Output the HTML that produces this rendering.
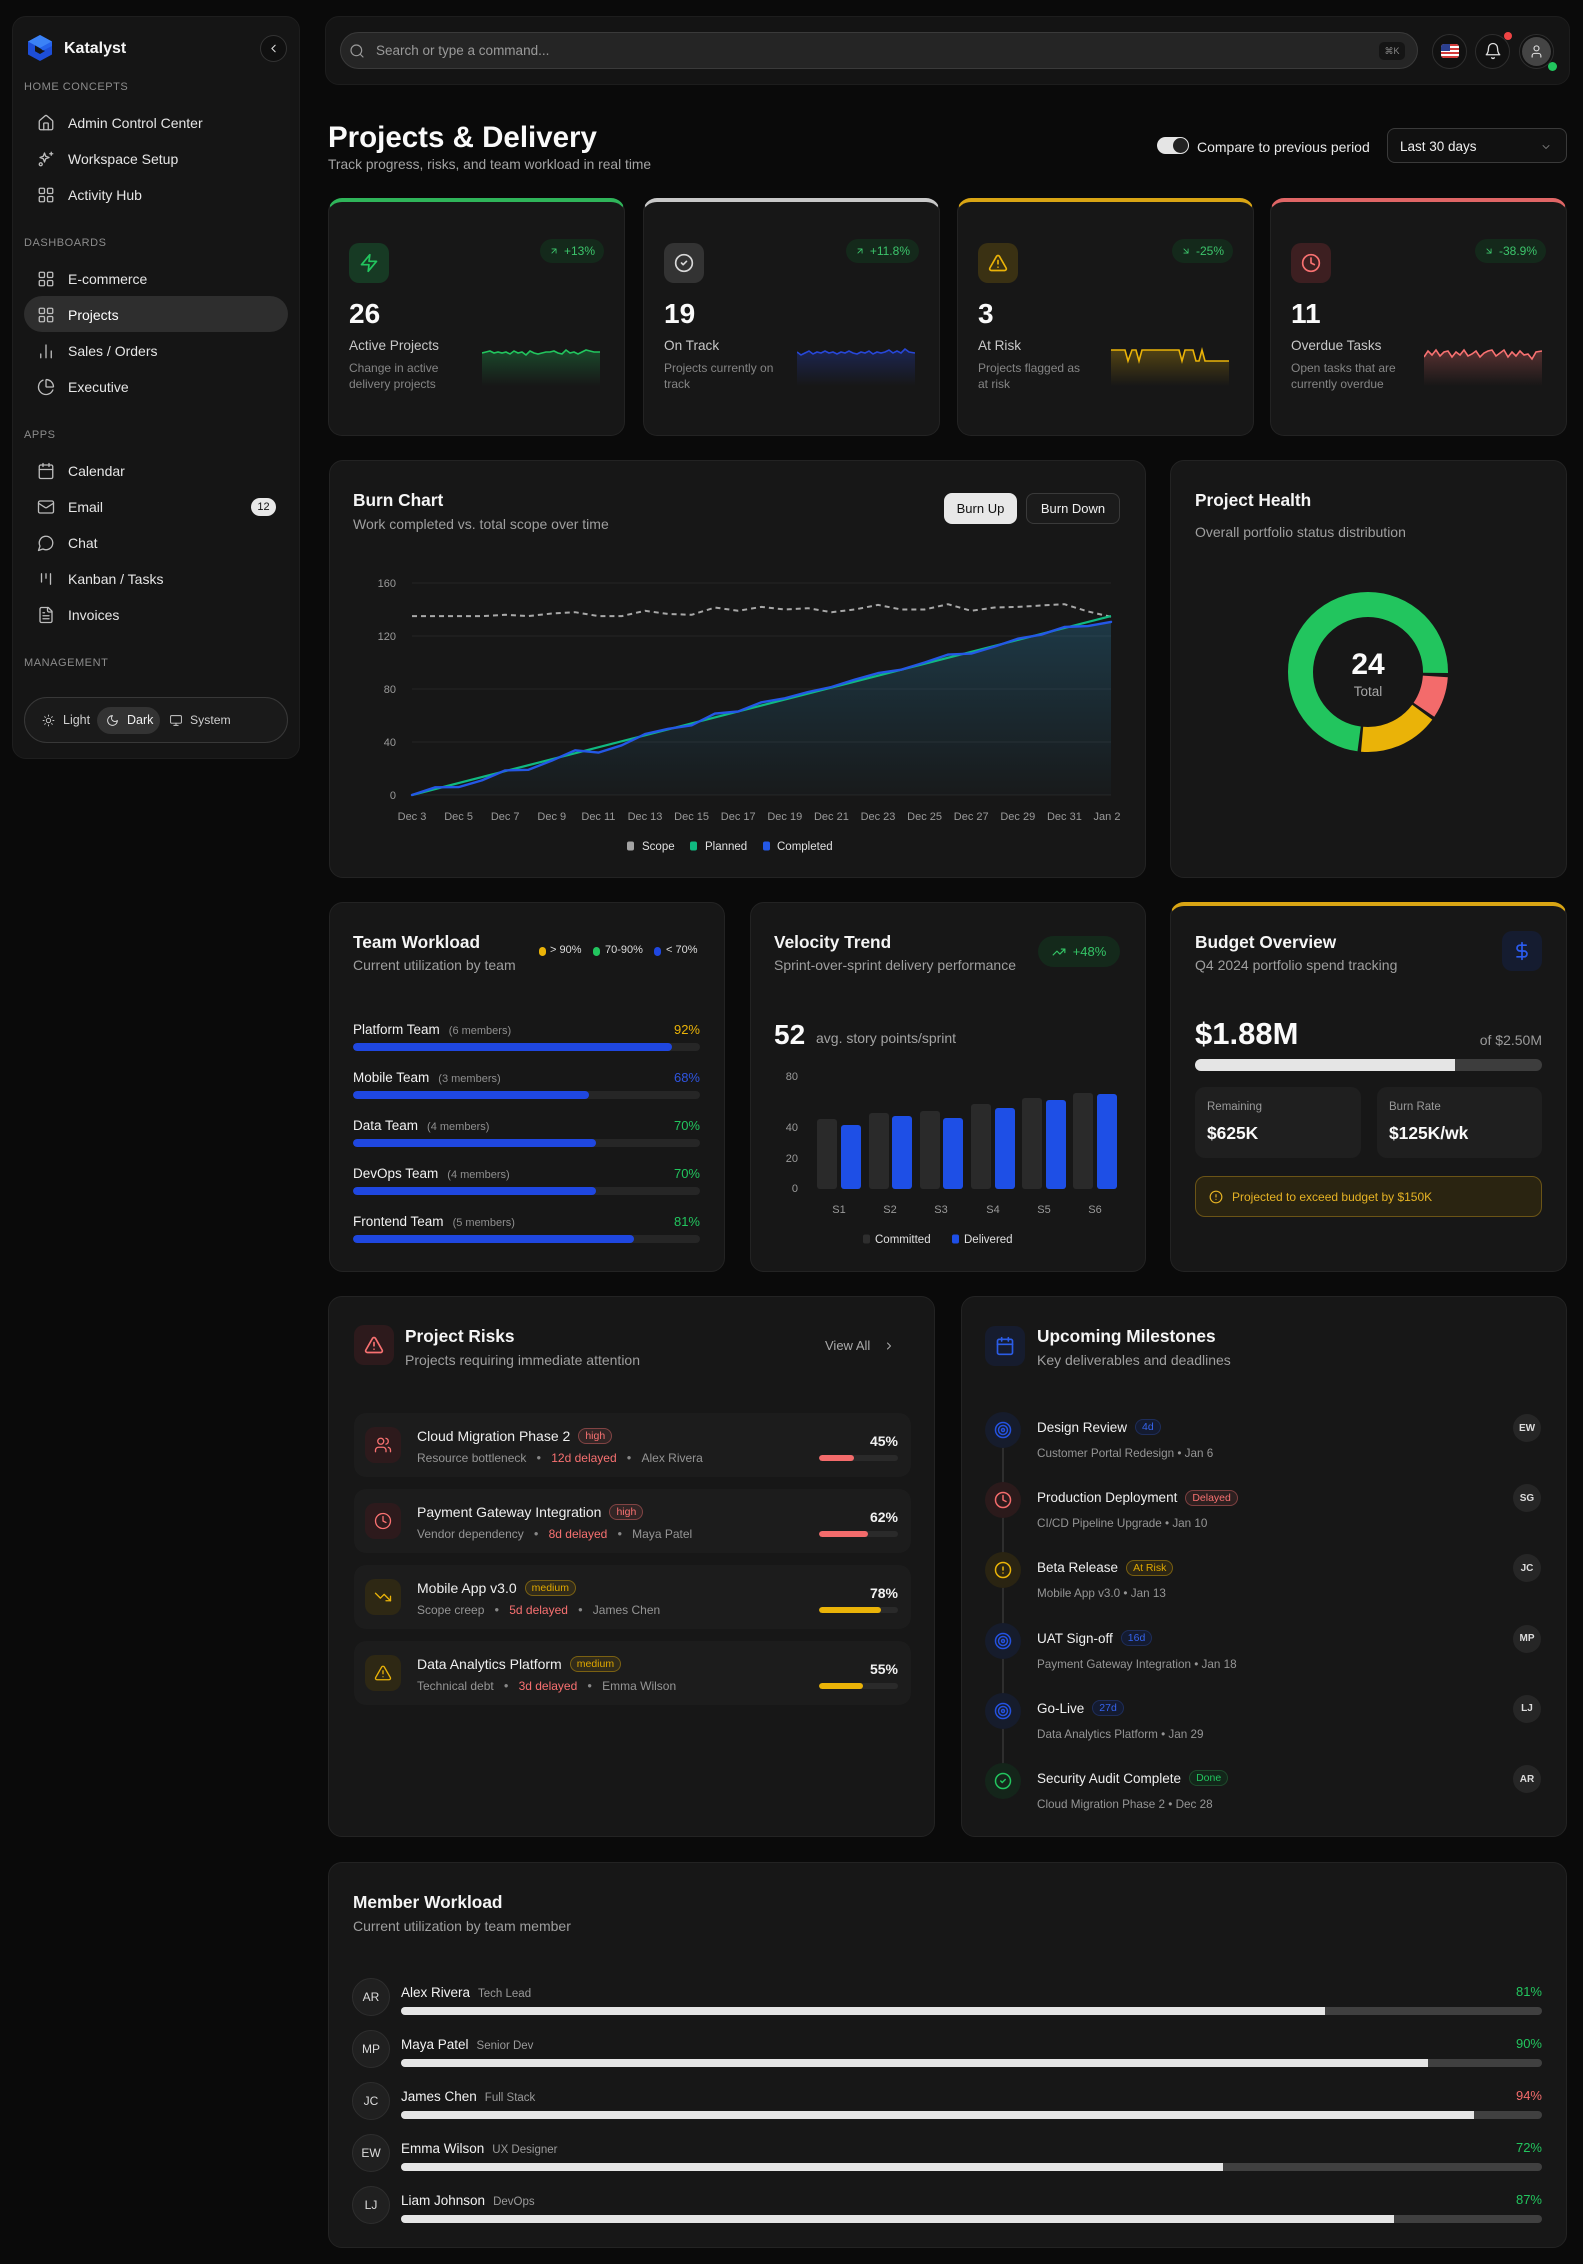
<!DOCTYPE html>
<html><head><meta charset="utf-8">
<style>
*{box-sizing:border-box;margin:0;padding:0}
html,body{width:1583px;height:2264px;background:#0a0a0a;overflow:hidden}
body{position:relative;font-family:"Liberation Sans",Arial,sans-serif;color:#f2f2f2}
.a{position:absolute}
.t{position:absolute;white-space:nowrap;line-height:1.2}
.card{position:absolute;background:#171717;border:1px solid #232323;border-radius:14px}
.ic{position:absolute;fill:none;stroke:currentColor;stroke-width:2;stroke-linecap:round;stroke-linejoin:round}
.sec{position:absolute;left:24px;font-size:11px;letter-spacing:.55px;color:#8c8c8c;line-height:1.2;white-space:nowrap}
.mi{position:absolute;left:68px;font-size:14px;color:#e6e6e6;line-height:1.2;white-space:nowrap}
.h{font-size:17.3px;font-weight:700;color:#f5f5f5}
.sub{font-size:14px;color:#9f9f9f}
.kpi{position:absolute;top:198px;width:297px;height:238px;background:#171717;border:1px solid #232323;border-top-width:4px;border-radius:14px}
.kbox{position:absolute;left:20px;top:41px;width:40px;height:40px;border-radius:10px}
.kbadge{position:absolute;right:20px;top:37px;height:24px;padding:0 9px;border-radius:12px;background:#14291b;color:#3cc46b;font-size:12px;display:flex;align-items:center;gap:5px;white-space:nowrap}
.knum{position:absolute;left:20px;top:95px;font-size:28px;font-weight:700;line-height:1.2;color:#fafafa}
.klab{position:absolute;left:20px;top:136px;font-size:13.6px;color:#c8c8c8;line-height:1.2;white-space:nowrap}
.kdesc{position:absolute;left:20px;top:158px;font-size:12px;color:#858585;line-height:16px;white-space:nowrap}
.bar{position:absolute;border-radius:4px;overflow:hidden}
.pill{display:inline-block;font-size:10.5px;line-height:14px;padding:0 6px;border-radius:8px;border:1px solid;vertical-align:middle;margin-left:8px;position:relative;top:-1px}
.pr{color:#f87171;border-color:rgba(248,113,113,.4);background:rgba(248,113,113,.1)}
.pa{color:#e0a800;border-color:rgba(234,179,8,.4);background:rgba(234,179,8,.1)}
.pb{color:#3563eb;border-color:#1e2d5a;background:#141b30}
.pg{color:#22c55e;border-color:#1d4a2b;background:#13261a}
.ritem{position:absolute;left:354px;width:557px;height:64px;background:#1c1c1c;border-radius:12px}
.rico{position:absolute;left:365px;width:36px;height:36px;border-radius:10px}
.rt{position:absolute;left:417px;font-size:14px;color:#efefef;line-height:1.2;white-space:nowrap}
.rm{position:absolute;left:417px;font-size:12px;color:#959595;line-height:1.2;white-space:nowrap}
.dot{display:inline-block;margin:0 10px;font-size:8px;position:relative;top:-2px;color:#888}
.rp{position:absolute;right:685px;font-size:14px;font-weight:700;color:#f2f2f2;line-height:1.2}
.mc{position:absolute;left:985px;width:36px;height:36px;border-radius:50%}
.mt{position:absolute;left:1037px;font-size:13.5px;color:#efefef;line-height:1.2;white-space:nowrap}
.ms{position:absolute;left:1037px;font-size:11.7px;color:#959595;line-height:1.2;white-space:nowrap}
.mav{position:absolute;left:1513px;width:28px;height:28px;border-radius:50%;background:#262626;color:#ddd;font-size:10px;font-weight:700;display:flex;align-items:center;justify-content:center}
.uav{position:absolute;left:352px;width:38px;height:38px;border-radius:50%;background:#202020;border:1px solid #2e2e2e;color:#ddd;font-size:12px;display:flex;align-items:center;justify-content:center}
.un{position:absolute;left:401px;font-size:13.5px;color:#f2f2f2;line-height:1.2;white-space:nowrap}
.un span{font-size:11.5px;color:#9a9a9a;margin-left:8px}
.up{position:absolute;right:41px;font-size:13px;line-height:1.2}
.ub{position:absolute;left:401px;width:1141px;height:8px;border-radius:4px;background:#404040;overflow:hidden}
.ub div{height:8px;background:#e5e5e5}
.tn{position:absolute;left:353px;font-size:13.5px;color:#f2f2f2;line-height:1.2;white-space:nowrap}
.tn span{font-size:11px;color:#8f8f8f;margin-left:9px}
.tp{position:absolute;right:883px;font-size:13px;line-height:1.2}
.tb{position:absolute;left:353px;width:347px;height:8px;border-radius:4px;background:#262626;overflow:hidden}
.tb div{height:8px;background:#1f47e0;border-radius:4px}
</style></head><body>

<svg width="0" height="0" style="position:absolute">
<defs>
<symbol id="home" viewBox="0 0 24 24"><path d="M15 21v-8a1 1 0 0 0-1-1h-4a1 1 0 0 0-1 1v8"/><path d="M3 10a2 2 0 0 1 .709-1.528l7-5.999a2 2 0 0 1 2.582 0l7 5.999A2 2 0 0 1 21 10v9a2 2 0 0 1-2 2H5a2 2 0 0 1-2-2z"/></symbol>
<symbol id="spark" viewBox="0 0 24 24"><path d="M10 4l1.6 4.4L16 10l-4.4 1.6L10 16l-1.6-4.4L4 10l4.4-1.6z"/><path d="M19 3v4M17 5h4"/><circle cx="5" cy="19" r="2"/></symbol>
<symbol id="grid" viewBox="0 0 24 24"><rect x="3" y="3" width="7" height="7" rx="1.5"/><rect x="14" y="3" width="7" height="7" rx="1.5"/><rect x="3" y="14" width="7" height="7" rx="1.5"/><rect x="14" y="14" width="7" height="7" rx="1.5"/></symbol>
<symbol id="barc" viewBox="0 0 24 24"><path d="M5 21v-5M12 21V4M19 21v-9"/></symbol>
<symbol id="pie" viewBox="0 0 24 24"><path d="M21 12c.552 0 1.005-.449.95-.998a10 10 0 0 0-8.953-8.951c-.55-.055-.998.398-.998.95v8a1 1 0 0 0 1 1z"/><path d="M21.21 15.89A10 10 0 1 1 8 2.83"/></symbol>
<symbol id="cal" viewBox="0 0 24 24"><rect x="3" y="4" width="18" height="18" rx="2"/><path d="M16 2v4M8 2v4M3 10h18"/></symbol>
<symbol id="mail" viewBox="0 0 24 24"><rect x="2" y="4" width="20" height="16" rx="2"/><path d="m22 7-8.97 5.7a1.94 1.94 0 0 1-2.06 0L2 7"/></symbol>
<symbol id="chat" viewBox="0 0 24 24"><path d="M7.9 20A9 9 0 1 0 4 16.1L2 22Z"/></symbol>
<symbol id="kan" viewBox="0 0 24 24"><path d="M6 5v11M12 5v6M18 5v14"/></symbol>
<symbol id="file" viewBox="0 0 24 24"><path d="M15 2H6a2 2 0 0 0-2 2v16a2 2 0 0 0 2 2h12a2 2 0 0 0 2-2V7Z"/><path d="M14 2v4a2 2 0 0 0 2 2h4M10 9H8M16 13H8M16 17H8"/></symbol>
<symbol id="sun" viewBox="0 0 24 24"><circle cx="12" cy="12" r="4"/><path d="M12 2v2M12 20v2M4.93 4.93l1.41 1.41M17.66 17.66l1.41 1.41M2 12h2M20 12h2M6.34 17.66l-1.41 1.41M19.07 4.93l-1.41 1.41"/></symbol>
<symbol id="moon" viewBox="0 0 24 24"><path d="M12 3a6 6 0 0 0 9 9 9 9 0 1 1-9-9Z"/></symbol>
<symbol id="mon" viewBox="0 0 24 24"><rect x="2" y="3" width="20" height="14" rx="2"/><path d="M8 21h8M12 17v4"/></symbol>
<symbol id="search" viewBox="0 0 24 24"><circle cx="11" cy="11" r="8"/><path d="m21 21-4.3-4.3"/></symbol>
<symbol id="bell" viewBox="0 0 24 24"><path d="M6 8a6 6 0 0 1 12 0c0 7 3 9 3 9H3s3-2 3-9"/><path d="M10.3 21a1.94 1.94 0 0 0 3.4 0"/></symbol>
<symbol id="user" viewBox="0 0 24 24"><circle cx="12" cy="7" r="4"/><path d="M19 21v-2a4 4 0 0 0-4-4H9a4 4 0 0 0-4 4v2"/></symbol>
<symbol id="users" viewBox="0 0 24 24"><path d="M16 21v-2a4 4 0 0 0-4-4H6a4 4 0 0 0-4 4v2"/><circle cx="9" cy="7" r="4"/><path d="M22 21v-2a4 4 0 0 0-3-3.87M16 3.13a4 4 0 0 1 0 7.75"/></symbol>
<symbol id="zap" viewBox="0 0 24 24"><path d="M13 2 3 14h9l-1 8 10-12h-9l1-8z"/></symbol>
<symbol id="ccheck" viewBox="0 0 24 24"><circle cx="12" cy="12" r="10"/><path d="m9 12 2 2 4-4"/></symbol>
<symbol id="tri" viewBox="0 0 24 24"><path d="m21.73 18-8-14a2 2 0 0 0-3.48 0l-8 14A2 2 0 0 0 4 21h16a2 2 0 0 0 1.73-3"/><path d="M12 9v4M12 17h.01"/></symbol>
<symbol id="clock" viewBox="0 0 24 24"><circle cx="12" cy="12" r="10"/><path d="M12 6v6l4 2"/></symbol>
<symbol id="tdown" viewBox="0 0 24 24"><path d="M22 17 13.5 8.5 8.5 13.5 2 7"/><path d="M16 17h6v-6"/></symbol>
<symbol id="tup" viewBox="0 0 24 24"><path d="M22 7 13.5 15.5 8.5 10.5 2 17"/><path d="M16 7h6v6"/></symbol>
<symbol id="dollar" viewBox="0 0 24 24"><path d="M12 2v20M17 5H9.5a3.5 3.5 0 0 0 0 7h5a3.5 3.5 0 0 1 0 7H6"/></symbol>
<symbol id="target" viewBox="0 0 24 24"><circle cx="12" cy="12" r="10"/><circle cx="12" cy="12" r="6"/><circle cx="12" cy="12" r="2"/></symbol>
<symbol id="acirc" viewBox="0 0 24 24"><circle cx="12" cy="12" r="10"/><path d="M12 8v4M12 16h.01"/></symbol>
<symbol id="chl" viewBox="0 0 24 24"><path d="m15 18-6-6 6-6"/></symbol>
<symbol id="chr" viewBox="0 0 24 24"><path d="m9 18 6-6-6-6"/></symbol>
<symbol id="chd" viewBox="0 0 24 24"><path d="m6 9 6 6 6-6"/></symbol>
<symbol id="aur" viewBox="0 0 24 24"><path d="M7 17 17 7M7 7h10v10"/></symbol>
<symbol id="adr" viewBox="0 0 24 24"><path d="M7 7l10 10M17 7v10H7"/></symbol>
</defs></svg>

<!-- SIDEBAR -->
<div class="a" style="left:12px;top:16px;width:288px;height:743px;background:#151515;border:1px solid #1e1e1e;border-radius:14px"></div>
<svg class="a" style="left:26px;top:34px" width="28" height="28" viewBox="0 0 28 28">
<path d="M14 1 L26 7.5 V20.5 L14 27 L2 20.5 V7.5Z" fill="#1d4ed8"/>
<path d="M14 1 L26 7.5 L14 14 L2 7.5Z" fill="#3b82f6"/>
<path d="M9 11.5 L19 17 L14 20 L9 17.2Z" fill="#151515"/>
<path d="M14 14 L26 7.5 V12 L17 16.5Z" fill="#2563eb"/>
</svg>
<div class="t" style="left:64px;top:38.5px;font-size:16px;font-weight:700;color:#f5f5f5">Katalyst</div>
<div class="a" style="left:260px;top:35px;width:27px;height:27px;border:1px solid #333;border-radius:50%;background:#101010"></div>
<svg class="ic" style="left:267px;top:42px;width:13px;height:13px;color:#ddd" viewBox="0 0 24 24"><use href="#chl"/></svg>

<div class="sec" style="top:81.4px">HOME CONCEPTS</div>
<svg class="ic" style="left:36.5px;top:114px;width:18px;height:18px;color:#bdbdbd;stroke-width:1.75" viewBox="0 0 24 24"><use href="#home"/></svg>
<div class="mi" style="top:114.6px">Admin Control Center</div>
<svg class="ic" style="left:36.5px;top:150px;width:18px;height:18px;color:#bdbdbd;stroke-width:1.75" viewBox="0 0 24 24"><use href="#spark"/></svg>
<div class="mi" style="top:150.6px">Workspace Setup</div>
<svg class="ic" style="left:36.5px;top:186px;width:18px;height:18px;color:#bdbdbd;stroke-width:1.75" viewBox="0 0 24 24"><use href="#grid"/></svg>
<div class="mi" style="top:186.6px">Activity Hub</div>

<div class="sec" style="top:237.4px">DASHBOARDS</div>
<svg class="ic" style="left:36.5px;top:270px;width:18px;height:18px;color:#bdbdbd;stroke-width:1.75" viewBox="0 0 24 24"><use href="#grid"/></svg>
<div class="mi" style="top:270.6px">E-commerce</div>
<div class="a" style="left:24px;top:296px;width:264px;height:36px;border-radius:18px;background:#2e2e2e"></div>
<svg class="ic" style="left:36.5px;top:306px;width:18px;height:18px;color:#bdbdbd;stroke-width:1.75" viewBox="0 0 24 24"><use href="#grid"/></svg>
<div class="mi" style="top:306.6px;color:#fff">Projects</div>
<svg class="ic" style="left:36.5px;top:342px;width:18px;height:18px;color:#bdbdbd;stroke-width:1.75" viewBox="0 0 24 24"><use href="#barc"/></svg>
<div class="mi" style="top:342.6px">Sales / Orders</div>
<svg class="ic" style="left:36.5px;top:378px;width:18px;height:18px;color:#bdbdbd;stroke-width:1.75" viewBox="0 0 24 24"><use href="#pie"/></svg>
<div class="mi" style="top:378.6px">Executive</div>

<div class="sec" style="top:429.4px">APPS</div>
<svg class="ic" style="left:36.5px;top:462px;width:18px;height:18px;color:#bdbdbd;stroke-width:1.75" viewBox="0 0 24 24"><use href="#cal"/></svg>
<div class="mi" style="top:462.6px">Calendar</div>
<svg class="ic" style="left:36.5px;top:498px;width:18px;height:18px;color:#bdbdbd;stroke-width:1.75" viewBox="0 0 24 24"><use href="#mail"/></svg>
<div class="mi" style="top:498.6px">Email</div>
<div class="a" style="left:251px;top:498px;width:25px;height:18px;border-radius:9px;background:#e8e8e8;color:#111;font-size:11px;line-height:18px;text-align:center">12</div>
<svg class="ic" style="left:36.5px;top:534px;width:18px;height:18px;color:#bdbdbd;stroke-width:1.75" viewBox="0 0 24 24"><use href="#chat"/></svg>
<div class="mi" style="top:534.6px">Chat</div>
<svg class="ic" style="left:36.5px;top:570px;width:18px;height:18px;color:#bdbdbd;stroke-width:1.75" viewBox="0 0 24 24"><use href="#kan"/></svg>
<div class="mi" style="top:570.6px">Kanban / Tasks</div>
<svg class="ic" style="left:36.5px;top:606px;width:18px;height:18px;color:#bdbdbd;stroke-width:1.75" viewBox="0 0 24 24"><use href="#file"/></svg>
<div class="mi" style="top:606.6px">Invoices</div>

<div class="sec" style="top:657.4px">MANAGEMENT</div>
<div class="a" style="left:24px;top:697px;width:264px;height:46px;border-radius:23px;border:1px solid #383838;background:#1a1a1a"></div>
<svg class="ic" style="left:42px;top:714px;width:13px;height:13px;color:#ccc;stroke-width:1.75" viewBox="0 0 24 24"><use href="#sun"/></svg>
<div class="t" style="left:63px;top:712.5px;font-size:12.5px;color:#cfcfcf">Light</div>
<div class="a" style="left:97px;top:707px;width:63px;height:27px;border-radius:14px;background:#333"></div>
<svg class="ic" style="left:106px;top:714px;width:13px;height:13px;color:#ddd;stroke-width:1.75" viewBox="0 0 24 24"><use href="#moon"/></svg>
<div class="t" style="left:127px;top:712.5px;font-size:12.5px;color:#f0f0f0">Dark</div>
<svg class="ic" style="left:169px;top:714px;width:14px;height:13px;color:#ccc;stroke-width:1.75" viewBox="0 0 24 24"><use href="#mon"/></svg>
<div class="t" style="left:190px;top:712.5px;font-size:12.2px;color:#cfcfcf">System</div>

<!-- HEADER -->
<div class="a" style="left:325px;top:16px;width:1245px;height:69px;background:#141414;border:1px solid #1d1d1d;border-radius:14px"></div>
<div class="a" style="left:340px;top:32px;width:1078px;height:37px;background:#252525;border:1px solid #3a3a3a;border-radius:19px"></div>
<svg class="ic" style="left:349px;top:43px;width:16px;height:16px;color:#9a9a9a;stroke-width:1.75" viewBox="0 0 24 24"><use href="#search"/></svg>
<div class="t" style="left:376px;top:42.9px;font-size:13.5px;color:#9a9a9a">Search or type a command...</div>
<div class="a" style="left:1379px;top:42px;width:26px;height:18px;border-radius:5px;background:#151515;color:#888;font-size:9px;line-height:18px;text-align:center">⌘K</div>
<div class="a" style="left:1432px;top:34px;width:35px;height:35px;border-radius:50%;border:1px solid #2e2e2e;background:#111"></div>
<svg class="a" style="left:1441px;top:44px" width="18" height="14" viewBox="0 0 18 14"><defs><clipPath id="fc"><rect width="18" height="14" rx="3"/></clipPath></defs><g clip-path="url(#fc)"><rect width="18" height="14" fill="#fff"/><rect y="0" width="18" height="2" fill="#d23b3b"/><rect y="4" width="18" height="2" fill="#d23b3b"/><rect y="8" width="18" height="2" fill="#d23b3b"/><rect y="12" width="18" height="2" fill="#d23b3b"/><rect width="9" height="7" fill="#2b3f8f"/></g></svg>
<div class="a" style="left:1475px;top:34px;width:35px;height:35px;border-radius:50%;border:1px solid #2e2e2e;background:#111"></div>
<svg class="ic" style="left:1483.5px;top:42px;width:18px;height:18px;color:#e0e0e0;stroke-width:1.75" viewBox="0 0 24 24"><use href="#bell"/></svg>
<div class="a" style="left:1504px;top:32px;width:8px;height:8px;border-radius:50%;background:#ef4444"></div>
<div class="a" style="left:1519px;top:34px;width:35px;height:35px;border-radius:50%;border:1px solid #2e2e2e;background:#111"></div>
<div class="a" style="left:1522px;top:37px;width:29px;height:29px;border-radius:50%;background:#444"></div>
<svg class="ic" style="left:1529px;top:44px;width:15px;height:15px;color:#e5e5e5;stroke-width:1.75" viewBox="0 0 24 24"><use href="#user"/></svg>
<div class="a" style="left:1548px;top:62px;width:9px;height:9px;border-radius:50%;background:#22c55e"></div>

<!-- TITLE -->
<div class="t" style="left:328px;top:120px;font-size:29.5px;font-weight:700;color:#fafafa">Projects &amp; Delivery</div>
<div class="t" style="left:328px;top:156.5px;font-size:13.8px;color:#a3a3a3">Track progress, risks, and team workload in real time</div>
<div class="a" style="left:1157px;top:137px;width:32px;height:17px;border-radius:9px;background:#e5e5e5"></div>
<div class="a" style="left:1173px;top:138px;width:15px;height:15px;border-radius:50%;background:#222"></div>
<div class="t" style="left:1197px;top:138.6px;font-size:14px;color:#e8e8e8">Compare to previous period</div>
<div class="a" style="left:1387px;top:128px;width:180px;height:35px;border:1px solid #3a3a3a;background:#111;border-radius:8px"></div>
<div class="t" style="left:1400px;top:138.9px;font-size:13.5px;color:#f0f0f0">Last 30 days</div>
<svg class="ic" style="left:1540px;top:141px;width:12px;height:12px;color:#888;stroke-width:1.75" viewBox="0 0 24 24"><use href="#chd"/></svg>

<!-- KPI CARDS -->
<div class="kpi" style="left:328px;border-top-color:#2fb55a">
  <div class="kbox" style="background:#173a24"></div>
  <svg class="ic" style="left:30px;top:51px;width:20px;height:20px;color:#22c55e" viewBox="0 0 24 24"><use href="#zap"/></svg>
  <div class="kbadge"><svg class="ic" style="position:static;width:10px;height:10px" viewBox="0 0 24 24"><use href="#aur"/></svg>+13%</div>
  <div class="knum">26</div>
  <div class="klab">Active Projects</div>
  <div class="kdesc">Change in active<br>delivery projects</div>
  <svg class="a" style="left:153px;top:144px" width="118" height="40"><defs><linearGradient id="sg1" x1="0" y1="0" x2="0" y2="1"><stop offset="0" stop-color="#22c55e" stop-opacity=".28"/><stop offset="1" stop-color="#22c55e" stop-opacity="0"/></linearGradient></defs>
  <path d="M0,7 4,6 8,5 12,7 16,6 20,7 24,6 28,8 32,5 36,7 40,6 44,9 48,5 52,7 56,8 60,7 64,6 68,6 72,5 76,7 80,8 84,4 88,7 92,6 96,8 100,6 104,4 108,5 112,6 118,6 118,40 0,40Z" fill="url(#sg1)"/>
  <polyline points="0,7 4,6 8,5 12,7 16,6 20,7 24,6 28,8 32,5 36,7 40,6 44,9 48,5 52,7 56,8 60,7 64,6 68,6 72,5 76,7 80,8 84,4 88,7 92,6 96,8 100,6 104,4 108,5 112,6 118,6" fill="none" stroke="#22c55e" stroke-width="1.6"/></svg>
</div>
<div class="kpi" style="left:643px;border-top-color:#c8c8c8">
  <div class="kbox" style="background:#333"></div>
  <svg class="ic" style="left:30px;top:51px;width:20px;height:20px;color:#d8d8d8" viewBox="0 0 24 24"><use href="#ccheck"/></svg>
  <div class="kbadge"><svg class="ic" style="position:static;width:10px;height:10px" viewBox="0 0 24 24"><use href="#aur"/></svg>+11.8%</div>
  <div class="knum">19</div>
  <div class="klab">On Track</div>
  <div class="kdesc">Projects currently on<br>track</div>
  <svg class="a" style="left:153px;top:144px" width="118" height="40"><defs><linearGradient id="sg2" x1="0" y1="0" x2="0" y2="1"><stop offset="0" stop-color="#2747d8" stop-opacity=".3"/><stop offset="1" stop-color="#2747d8" stop-opacity="0"/></linearGradient></defs>
  <path d="M0,6 4,9 8,7 12,5 16,8 20,6 24,7 28,5 32,7 36,6 40,8 44,6 48,7 52,5 56,7 60,8 64,6 68,7 72,5 76,8 80,6 84,7 88,6 92,4 96,7 100,5 104,7 108,3 112,6 118,7 118,40 0,40Z" fill="url(#sg2)"/>
  <polyline points="0,6 4,9 8,7 12,5 16,8 20,6 24,7 28,5 32,7 36,6 40,8 44,6 48,7 52,5 56,7 60,8 64,6 68,7 72,5 76,8 80,6 84,7 88,6 92,4 96,7 100,5 104,7 108,3 112,6 118,7" fill="none" stroke="#2747d8" stroke-width="1.6"/></svg>
</div>
<div class="kpi" style="left:957px;border-top-color:#d9a514">
  <div class="kbox" style="background:#3a3113"></div>
  <svg class="ic" style="left:30px;top:51px;width:20px;height:20px;color:#eab308" viewBox="0 0 24 24"><use href="#tri"/></svg>
  <div class="kbadge"><svg class="ic" style="position:static;width:10px;height:10px" viewBox="0 0 24 24"><use href="#adr"/></svg>-25%</div>
  <div class="knum">3</div>
  <div class="klab">At Risk</div>
  <div class="kdesc">Projects flagged as<br>at risk</div>
  <svg class="a" style="left:153px;top:144px" width="118" height="40"><defs><linearGradient id="sg3" x1="0" y1="0" x2="0" y2="1"><stop offset="0" stop-color="#eab308" stop-opacity=".28"/><stop offset="1" stop-color="#eab308" stop-opacity="0"/></linearGradient></defs>
  <path d="M0,4 14,4 17,15 21,4 25,4 28,15 31,4 68,4 71,15 74,4 82,4 85,15 88,15 91,4 94,15 118,15 118,40 0,40Z" fill="url(#sg3)"/>
  <polyline points="0,4 14,4 17,15 21,4 25,4 28,15 31,4 68,4 71,15 74,4 82,4 85,15 88,15 91,4 94,15 118,15" fill="none" stroke="#eab308" stroke-width="1.6"/></svg>
</div>
<div class="kpi" style="left:1270px;border-top-color:#e06666">
  <div class="kbox" style="background:#3d1f21"></div>
  <svg class="ic" style="left:30px;top:51px;width:20px;height:20px;color:#f87171" viewBox="0 0 24 24"><use href="#clock"/></svg>
  <div class="kbadge"><svg class="ic" style="position:static;width:10px;height:10px" viewBox="0 0 24 24"><use href="#adr"/></svg>-38.9%</div>
  <div class="knum">11</div>
  <div class="klab">Overdue Tasks</div>
  <div class="kdesc">Open tasks that are<br>currently overdue</div>
  <svg class="a" style="left:153px;top:144px" width="118" height="40"><defs><linearGradient id="sg4" x1="0" y1="0" x2="0" y2="1"><stop offset="0" stop-color="#f87171" stop-opacity=".28"/><stop offset="1" stop-color="#f87171" stop-opacity="0"/></linearGradient></defs>
  <path d="M0,11 4,5 8,9 12,4 16,10 20,6 24,5 28,11 32,6 36,9 40,4 44,10 48,8 52,5 56,11 60,7 64,5 68,4 72,10 76,7 80,4 84,11 88,6 92,10 96,5 100,9 104,8 108,13 112,6 118,5 118,40 0,40Z" fill="url(#sg4)"/>
  <polyline points="0,11 4,5 8,9 12,4 16,10 20,6 24,5 28,11 32,6 36,9 40,4 44,10 48,8 52,5 56,11 60,7 64,5 68,4 72,10 76,7 80,4 84,11 88,6 92,10 96,5 100,9 104,8 108,13 112,6 118,5" fill="none" stroke="#f87171" stroke-width="1.6"/></svg>
</div>

<!-- BURN CHART -->
<div class="card" style="left:329px;top:460px;width:817px;height:418px"></div>
<div class="t h" style="left:353px;top:489.6px">Burn Chart</div>
<div class="t sub" style="left:353px;top:515.6px">Work completed vs. total scope over time</div>
<div class="a" style="left:944px;top:493px;width:73px;height:31px;border-radius:8px;background:#e8e8e8;color:#111;font-size:13px;line-height:31px;text-align:center">Burn Up</div>
<div class="a" style="left:1026px;top:493px;width:94px;height:31px;border-radius:8px;background:#1b1b1b;border:1px solid #3a3a3a;color:#f0f0f0;font-size:13px;line-height:29px;text-align:center">Burn Down</div>
<svg class="a" style="left:329px;top:460px" width="817" height="418" viewBox="329 460 817 418" font-family="Liberation Sans, Arial, sans-serif">
<defs><linearGradient id="bg1" x1="0" y1="616" x2="0" y2="795" gradientUnits="userSpaceOnUse"><stop offset="0" stop-color="#2a7fa8" stop-opacity=".33"/><stop offset="1" stop-color="#2a7fa8" stop-opacity=".03"/></linearGradient></defs>
<g stroke="#262626" stroke-width="1"><line x1="412" y1="583" x2="1111" y2="583"/><line x1="412" y1="636" x2="1111" y2="636"/><line x1="412" y1="689" x2="1111" y2="689"/><line x1="412" y1="742" x2="1111" y2="742"/><line x1="412" y1="795" x2="1111" y2="795"/></g>
<g fill="#9a9a9a" font-size="11" text-anchor="end"><text x="396" y="587">160</text><text x="396" y="640">120</text><text x="396" y="693">80</text><text x="396" y="746">40</text><text x="396" y="799">0</text></g>
<g fill="#9a9a9a" font-size="11" text-anchor="middle"><text x="412" y="820">Dec 3</text><text x="458.6" y="820">Dec 5</text><text x="505.2" y="820">Dec 7</text><text x="551.8" y="820">Dec 9</text><text x="598.4" y="820">Dec 11</text><text x="645" y="820">Dec 13</text><text x="691.6" y="820">Dec 15</text><text x="738.2" y="820">Dec 17</text><text x="784.8" y="820">Dec 19</text><text x="831.4" y="820">Dec 21</text><text x="878" y="820">Dec 23</text><text x="924.6" y="820">Dec 25</text><text x="971.2" y="820">Dec 27</text><text x="1017.8" y="820">Dec 29</text><text x="1064.4" y="820">Dec 31</text><text x="1107" y="820">Jan 2</text></g>
<path d="M412,795 435.3,787.3 458.6,787.1 481.9,780.4 505.2,770.4 528.5,769.8 551.8,760.6 575.1,750.3 598.4,752.6 621.7,745.3 645,734.1 668.3,728.8 691.6,725.3 714.9,713.6 738.2,711.5 761.5,702.3 784.8,698.3 808.1,692 831.4,687 854.7,679.7 878,673.1 901.3,669.7 924.6,662.5 947.9,654.6 971.2,653.6 994.5,646.6 1017.8,638.7 1041.1,634.7 1064.4,627 1087.7,626.1 1111,621.9 1111,795Z" fill="url(#bg1)"/>
<polyline points="412,616.1 435.3,616.1 458.6,616.1 481.9,616.1 505.2,614.8 528.5,616.1 551.8,613.5 575.1,612.2 598.4,616.1 621.7,616.1 645,610.8 668.3,614 691.6,614.8 714.9,607.5 738.2,610.8 761.5,606.9 784.8,609.5 808.1,608.2 831.4,612.2 854.7,609.5 878,604.9 901.3,609.5 924.6,609.5 947.9,604.2 971.2,610.8 994.5,607.5 1017.8,606.9 1041.1,605.5 1064.4,604.2 1087.7,611.4 1111,616.8" fill="none" stroke="#a8a8a8" stroke-width="2" stroke-dasharray="5 4" stroke-linejoin="round"/>
<line x1="412" y1="795" x2="1111" y2="616.1" stroke="#10b981" stroke-width="2.2"/>
<polyline points="412,795 435.3,787.3 458.6,787.1 481.9,780.4 505.2,770.4 528.5,769.8 551.8,760.6 575.1,750.3 598.4,752.6 621.7,745.3 645,734.1 668.3,728.8 691.6,725.3 714.9,713.6 738.2,711.5 761.5,702.3 784.8,698.3 808.1,692 831.4,687 854.7,679.7 878,673.1 901.3,669.7 924.6,662.5 947.9,654.6 971.2,653.6 994.5,646.6 1017.8,638.7 1041.1,634.7 1064.4,627 1087.7,626.1 1111,621.9" fill="none" stroke="#2458e6" stroke-width="2.4" stroke-linejoin="round" stroke-linecap="round"/>
<rect x="627" y="841.5" width="7" height="9" rx="2" fill="#a3a3a3"/><text x="642" y="850" font-size="11.5" fill="#e0e0e0">Scope</text>
<rect x="690" y="841.5" width="7" height="9" rx="2" fill="#10b981"/><text x="705" y="850" font-size="11.5" fill="#e0e0e0">Planned</text>
<rect x="763" y="841.5" width="7" height="9" rx="2" fill="#2458e6"/><text x="777" y="850" font-size="11.5" fill="#e0e0e0">Completed</text>
</svg>

<!-- PROJECT HEALTH -->
<div class="card" style="left:1170px;top:460px;width:397px;height:418px"></div>
<div class="t h" style="left:1195px;top:489.6px">Project Health</div>
<div class="t sub" style="left:1195px;top:523.6px">Overall portfolio status distribution</div>
<svg class="a" style="left:1288px;top:592px" width="160" height="160" viewBox="1288 592 160 160">
<circle cx="1368" cy="672" r="67.5" fill="none" stroke="#22c55e" stroke-width="25" stroke-dasharray="310.1 114" stroke-dashoffset="-114.9"/>
<circle cx="1368" cy="672" r="67.5" fill="none" stroke="#f36b6b" stroke-width="25" stroke-dasharray="35.6 388.5" stroke-dashoffset="-4.5"/>
<circle cx="1368" cy="672" r="67.5" fill="none" stroke="#eab308" stroke-width="25" stroke-dasharray="68.9 355.2" stroke-dashoffset="-43"/>
</svg>
<div class="t" style="left:1318px;top:647px;width:100px;text-align:center;font-size:30px;font-weight:700;color:#fafafa">24</div>
<div class="t" style="left:1318px;top:684px;width:100px;text-align:center;font-size:13.5px;color:#a8a8a8">Total</div>

<!-- TEAM WORKLOAD -->
<div class="card" style="left:329px;top:902px;width:396px;height:370px"></div>
<div class="t h" style="left:353px;top:931.6px">Team Workload</div>
<div class="t sub" style="left:353px;top:956.6px">Current utilization by team</div>
<div class="a" style="left:539px;top:947px;width:7px;height:9px;border-radius:4px;background:#eab308"></div>
<div class="t" style="left:550px;top:944.4px;font-size:11px;color:#ddd">&gt; 90%</div>
<div class="a" style="left:593px;top:947px;width:7px;height:9px;border-radius:4px;background:#22c55e"></div>
<div class="t" style="left:605px;top:944.4px;font-size:11px;color:#ddd">70-90%</div>
<div class="a" style="left:654px;top:947px;width:7px;height:9px;border-radius:4px;background:#1f47e0"></div>
<div class="t" style="left:666px;top:944.4px;font-size:11px;color:#ddd">&lt; 70%</div>

<div class="tn" style="top:1021.9px">Platform Team<span>(6 members)</span></div><div class="tp" style="top:1022.2px;color:#eab308">92%</div>
<div class="tb" style="top:1043px"><div style="width:319px"></div></div>
<div class="tn" style="top:1069.9px">Mobile Team<span>(3 members)</span></div><div class="tp" style="top:1070.2px;color:#2f55e0">68%</div>
<div class="tb" style="top:1091px"><div style="width:236px"></div></div>
<div class="tn" style="top:1117.9px">Data Team<span>(4 members)</span></div><div class="tp" style="top:1118.2px;color:#22c55e">70%</div>
<div class="tb" style="top:1139px"><div style="width:243px"></div></div>
<div class="tn" style="top:1165.9px">DevOps Team<span>(4 members)</span></div><div class="tp" style="top:1166.2px;color:#22c55e">70%</div>
<div class="tb" style="top:1187px"><div style="width:243px"></div></div>
<div class="tn" style="top:1213.9px">Frontend Team<span>(5 members)</span></div><div class="tp" style="top:1214.2px;color:#22c55e">81%</div>
<div class="tb" style="top:1235px"><div style="width:281px"></div></div>

<!-- VELOCITY -->
<div class="card" style="left:750px;top:902px;width:396px;height:370px"></div>
<div class="t h" style="left:774px;top:931.6px">Velocity Trend</div>
<div class="t sub" style="left:774px;top:956.6px">Sprint-over-sprint delivery performance</div>
<div class="a" style="left:1038px;top:936px;width:82px;height:31px;border-radius:16px;background:#14291b;color:#34c466;font-size:13px;display:flex;align-items:center;justify-content:center;gap:7px"><svg class="ic" style="position:static;width:14px;height:14px" viewBox="0 0 24 24"><use href="#tup"/></svg>+48%</div>
<div class="t" style="left:774px;top:1018px;font-size:28px;font-weight:700;color:#fafafa">52</div>
<div class="t" style="left:816px;top:1030px;font-size:14px;color:#a3a3a3">avg. story points/sprint</div>
<svg class="a" style="left:750px;top:902px" width="396" height="370" viewBox="750 902 396 370" font-family="Liberation Sans, Arial, sans-serif">
<g fill="#9a9a9a" font-size="11" text-anchor="end"><text x="798" y="1080">80</text><text x="798" y="1131">40</text><text x="798" y="1162">20</text><text x="798" y="1192">0</text></g>
<g fill="#2a2a2a"><rect x="817" y="1119" width="20" height="70" rx="3"/><rect x="869" y="1113" width="20" height="76" rx="3"/><rect x="920" y="1111" width="20" height="78" rx="3"/><rect x="971" y="1104" width="20" height="85" rx="3"/><rect x="1022" y="1098" width="20" height="91" rx="3"/><rect x="1073" y="1093" width="20" height="96" rx="3"/></g>
<g fill="#1e4fe6"><rect x="841" y="1125" width="20" height="64" rx="3"/><rect x="892" y="1116" width="20" height="73" rx="3"/><rect x="943" y="1118" width="20" height="71" rx="3"/><rect x="995" y="1108" width="20" height="81" rx="3"/><rect x="1046" y="1100" width="20" height="89" rx="3"/><rect x="1097" y="1094" width="20" height="95" rx="3"/></g>
<g fill="#9a9a9a" font-size="11" text-anchor="middle"><text x="839" y="1213">S1</text><text x="890" y="1213">S2</text><text x="941" y="1213">S3</text><text x="993" y="1213">S4</text><text x="1044" y="1213">S5</text><text x="1095" y="1213">S6</text></g>
<rect x="863" y="1234.5" width="7" height="9" rx="2" fill="#2e2e2e"/><text x="875" y="1243" font-size="11.5" fill="#e0e0e0">Committed</text>
<rect x="952" y="1234.5" width="7" height="9" rx="2" fill="#1e4fe6"/><text x="964" y="1243" font-size="11.5" fill="#e0e0e0">Delivered</text>
</svg>

<!-- BUDGET -->
<div class="card" style="left:1170px;top:902px;width:397px;height:370px;border-top:4px solid #d9a514"></div>
<div class="t h" style="left:1195px;top:931.6px">Budget Overview</div>
<div class="t sub" style="left:1195px;top:956.6px">Q4 2024 portfolio spend tracking</div>
<div class="a" style="left:1502px;top:931px;width:40px;height:40px;border-radius:10px;background:#151c30"></div>
<svg class="ic" style="left:1512px;top:941px;width:20px;height:20px;color:#2b5cf0" viewBox="0 0 24 24"><use href="#dollar"/></svg>
<div class="t" style="left:1195px;top:1015.4px;font-size:31px;font-weight:700;color:#fafafa">$1.88M</div>
<div class="t" style="right:41px;top:1031.6px;font-size:14px;color:#9a9a9a">of $2.50M</div>
<div class="a" style="left:1195px;top:1059px;width:347px;height:12px;border-radius:6px;background:#3d3d3d;overflow:hidden"><div style="width:260px;height:12px;background:#e5e5e5"></div></div>
<div class="a" style="left:1195px;top:1087px;width:166px;height:71px;border-radius:10px;background:#1f1f1f"></div>
<div class="t" style="left:1207px;top:1101px;font-size:11.5px;color:#9a9a9a">Remaining</div>
<div class="t" style="left:1207px;top:1122.5px;font-size:17.4px;font-weight:700;color:#fafafa">$625K</div>
<div class="a" style="left:1377px;top:1087px;width:165px;height:71px;border-radius:10px;background:#1f1f1f"></div>
<div class="t" style="left:1389px;top:1101px;font-size:11.5px;color:#9a9a9a">Burn Rate</div>
<div class="t" style="left:1389px;top:1122.5px;font-size:17.4px;font-weight:700;color:#fafafa">$125K/wk</div>
<div class="a" style="left:1195px;top:1176px;width:347px;height:41px;border-radius:10px;border:1px solid #6b5416;background:#2a2411"></div>
<svg class="ic" style="left:1209px;top:1190px;width:14px;height:14px;color:#e6b324" viewBox="0 0 24 24"><use href="#acirc"/></svg>
<div class="t" style="left:1232px;top:1189.8px;font-size:12px;color:#e6b324">Projected to exceed budget by $150K</div>

<!-- PROJECT RISKS -->
<div class="card" style="left:328px;top:1296px;width:607px;height:541px"></div>
<div class="a" style="left:354px;top:1325px;width:40px;height:40px;border-radius:10px;background:#2d1a1c"></div>
<svg class="ic" style="left:364px;top:1335px;width:20px;height:20px;color:#f87171" viewBox="0 0 24 24"><use href="#tri"/></svg>
<div class="t h" style="left:405px;top:1325.6px">Project Risks</div>
<div class="t sub" style="left:405px;top:1351.6px">Projects requiring immediate attention</div>
<div class="t" style="left:825px;top:1338px;font-size:13px;color:#aaa">View All</div>
<svg class="ic" style="left:883px;top:1340px;width:12px;height:12px;color:#aaa" viewBox="0 0 24 24"><use href="#chr"/></svg>

<div class="ritem" style="top:1413px"></div>
<div class="rico" style="top:1427px;background:#2d1a1c"></div>
<svg class="ic" style="left:374px;top:1436px;width:18px;height:18px;color:#f87171;stroke-width:1.75" viewBox="0 0 24 24"><use href="#users"/></svg>
<div class="rt" style="top:1427.6px">Cloud Migration Phase 2<span class="pill pr">high</span></div>
<div class="rm" style="top:1450.8px">Resource bottleneck<span class="dot">●</span><span style="color:#f87171">12d delayed</span><span class="dot">●</span>Alex Rivera</div>
<div class="rp" style="top:1432.6px">45%</div>
<div class="bar" style="left:819px;top:1455px;width:79px;height:6px;background:#2a2a2a"><div style="width:35px;height:6px;background:#f36b6b;border-radius:3px"></div></div>

<div class="ritem" style="top:1489px"></div>
<div class="rico" style="top:1503px;background:#2d1a1c"></div>
<svg class="ic" style="left:374px;top:1512px;width:18px;height:18px;color:#f87171;stroke-width:1.75" viewBox="0 0 24 24"><use href="#clock"/></svg>
<div class="rt" style="top:1503.6px">Payment Gateway Integration<span class="pill pr">high</span></div>
<div class="rm" style="top:1526.8px">Vendor dependency<span class="dot">●</span><span style="color:#f87171">8d delayed</span><span class="dot">●</span>Maya Patel</div>
<div class="rp" style="top:1508.6px">62%</div>
<div class="bar" style="left:819px;top:1531px;width:79px;height:6px;background:#2a2a2a"><div style="width:49px;height:6px;background:#f36b6b;border-radius:3px"></div></div>

<div class="ritem" style="top:1565px"></div>
<div class="rico" style="top:1579px;background:#2e2814"></div>
<svg class="ic" style="left:374px;top:1588px;width:18px;height:18px;color:#eab308;stroke-width:1.75" viewBox="0 0 24 24"><use href="#tdown"/></svg>
<div class="rt" style="top:1579.6px">Mobile App v3.0<span class="pill pa">medium</span></div>
<div class="rm" style="top:1602.8px">Scope creep<span class="dot">●</span><span style="color:#f87171">5d delayed</span><span class="dot">●</span>James Chen</div>
<div class="rp" style="top:1584.6px">78%</div>
<div class="bar" style="left:819px;top:1607px;width:79px;height:6px;background:#2a2a2a"><div style="width:62px;height:6px;background:#eab308;border-radius:3px"></div></div>

<div class="ritem" style="top:1641px"></div>
<div class="rico" style="top:1655px;background:#2e2814"></div>
<svg class="ic" style="left:374px;top:1664px;width:18px;height:18px;color:#eab308;stroke-width:1.75" viewBox="0 0 24 24"><use href="#tri"/></svg>
<div class="rt" style="top:1655.6px">Data Analytics Platform<span class="pill pa">medium</span></div>
<div class="rm" style="top:1678.8px">Technical debt<span class="dot">●</span><span style="color:#f87171">3d delayed</span><span class="dot">●</span>Emma Wilson</div>
<div class="rp" style="top:1660.6px">55%</div>
<div class="bar" style="left:819px;top:1683px;width:79px;height:6px;background:#2a2a2a"><div style="width:44px;height:6px;background:#eab308;border-radius:3px"></div></div>

<!-- MILESTONES -->
<div class="card" style="left:961px;top:1296px;width:606px;height:541px"></div>
<div class="a" style="left:985px;top:1326px;width:40px;height:40px;border-radius:10px;background:#161c2e"></div>
<svg class="ic" style="left:995px;top:1336px;width:20px;height:20px;color:#2b5ce6" viewBox="0 0 24 24"><use href="#cal"/></svg>
<div class="t h" style="left:1037px;top:1325.6px">Upcoming Milestones</div>
<div class="t sub" style="left:1037px;top:1351.6px">Key deliverables and deadlines</div>
<div class="a" style="left:1002px;top:1430px;width:2px;height:351px;background:#2e2e2e"></div>

<div class="mc" style="top:1412px;background:#161c2c"></div>
<svg class="ic" style="left:994px;top:1421px;width:18px;height:18px;color:#2452e0" viewBox="0 0 24 24"><use href="#target"/></svg>
<div class="mt" style="top:1419.9px">Design Review<span class="pill pb">4d</span></div>
<div class="ms" style="top:1447px">Customer Portal Redesign • Jan 6</div>
<div class="mav" style="top:1414px">EW</div>

<div class="mc" style="top:1482.2px;background:#2b1a1b"></div>
<svg class="ic" style="left:994px;top:1491.2px;width:18px;height:18px;color:#f36b6b" viewBox="0 0 24 24"><use href="#clock"/></svg>
<div class="mt" style="top:1490.1px">Production Deployment<span class="pill pr">Delayed</span></div>
<div class="ms" style="top:1517.2px">CI/CD Pipeline Upgrade • Jan 10</div>
<div class="mav" style="top:1484.2px">SG</div>

<div class="mc" style="top:1552.4px;background:#2a2412"></div>
<svg class="ic" style="left:994px;top:1561.4px;width:18px;height:18px;color:#eab308" viewBox="0 0 24 24"><use href="#acirc"/></svg>
<div class="mt" style="top:1560.3px">Beta Release<span class="pill pa">At Risk</span></div>
<div class="ms" style="top:1587.4px">Mobile App v3.0 • Jan 13</div>
<div class="mav" style="top:1554.4px">JC</div>

<div class="mc" style="top:1622.6px;background:#161c2c"></div>
<svg class="ic" style="left:994px;top:1631.6px;width:18px;height:18px;color:#2452e0" viewBox="0 0 24 24"><use href="#target"/></svg>
<div class="mt" style="top:1630.5px">UAT Sign-off<span class="pill pb">16d</span></div>
<div class="ms" style="top:1657.6px">Payment Gateway Integration • Jan 18</div>
<div class="mav" style="top:1624.6px">MP</div>

<div class="mc" style="top:1692.8px;background:#161c2c"></div>
<svg class="ic" style="left:994px;top:1701.8px;width:18px;height:18px;color:#2452e0" viewBox="0 0 24 24"><use href="#target"/></svg>
<div class="mt" style="top:1700.7px">Go-Live<span class="pill pb">27d</span></div>
<div class="ms" style="top:1727.8px">Data Analytics Platform • Jan 29</div>
<div class="mav" style="top:1694.8px">LJ</div>

<div class="mc" style="top:1763px;background:#14251a"></div>
<svg class="ic" style="left:994px;top:1772px;width:18px;height:18px;color:#22c55e" viewBox="0 0 24 24"><use href="#ccheck"/></svg>
<div class="mt" style="top:1770.9px">Security Audit Complete<span class="pill pg">Done</span></div>
<div class="ms" style="top:1798px">Cloud Migration Phase 2 • Dec 28</div>
<div class="mav" style="top:1765px">AR</div>

<!-- MEMBER WORKLOAD -->
<div class="card" style="left:328px;top:1862px;width:1239px;height:386px"></div>
<div class="t h" style="left:353px;top:1891.6px">Member Workload</div>
<div class="t sub" style="left:353px;top:1917.6px">Current utilization by team member</div>

<div class="uav" style="top:1978px">AR</div>
<div class="un" style="top:1984.9px">Alex Rivera<span>Tech Lead</span></div>
<div class="up" style="top:1984.2px;color:#22c55e">81%</div>
<div class="ub" style="top:2007px"><div style="width:924px"></div></div>

<div class="uav" style="top:2030px">MP</div>
<div class="un" style="top:2036.9px">Maya Patel<span>Senior Dev</span></div>
<div class="up" style="top:2036.2px;color:#22c55e">90%</div>
<div class="ub" style="top:2059px"><div style="width:1027px"></div></div>

<div class="uav" style="top:2082px">JC</div>
<div class="un" style="top:2088.9px">James Chen<span>Full Stack</span></div>
<div class="up" style="top:2088.2px;color:#f36b6b">94%</div>
<div class="ub" style="top:2111px"><div style="width:1073px"></div></div>

<div class="uav" style="top:2134px">EW</div>
<div class="un" style="top:2140.9px">Emma Wilson<span>UX Designer</span></div>
<div class="up" style="top:2140.2px;color:#22c55e">72%</div>
<div class="ub" style="top:2163px"><div style="width:822px"></div></div>

<div class="uav" style="top:2186px">LJ</div>
<div class="un" style="top:2192.9px">Liam Johnson<span>DevOps</span></div>
<div class="up" style="top:2192.2px;color:#22c55e">87%</div>
<div class="ub" style="top:2215px"><div style="width:993px"></div></div>

</body></html>
